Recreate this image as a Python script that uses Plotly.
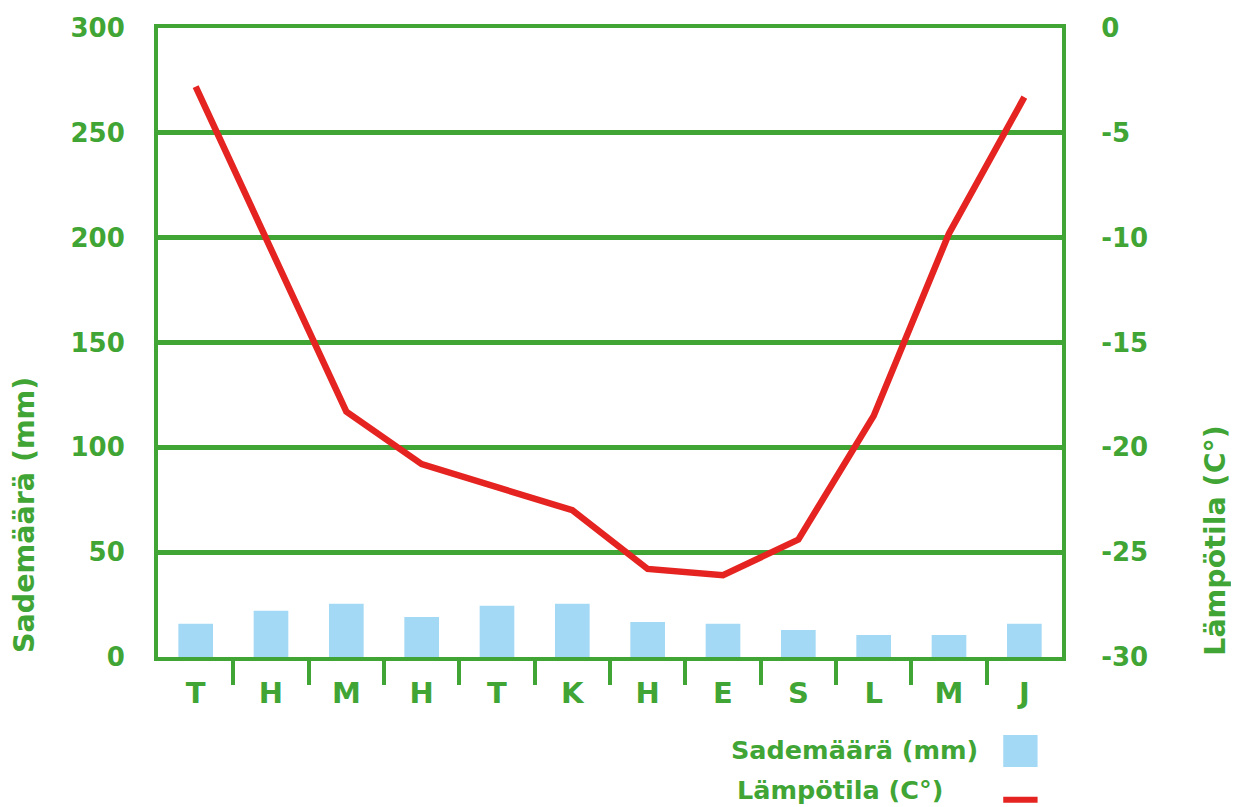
import plotly.graph_objects as go

months = ["T", "H", "M", "H", "T", "K", "H", "E", "S", "L", "M", "J"]
precip_mm = [15.8, 22, 25.4, 19.1, 24.4, 25.4, 16.7, 15.8, 12.9, 10.5, 10.5, 15.8]
temp_c = [-2.8, -10.5, -18.3, -20.8, -21.9, -23.0, -25.8, -26.1, -24.4, -18.5, -9.8, -3.3]
left_ticks = [0, 50, 100, 150, 200, 250, 300]
right_ticks = [0, -5, -10, -15, -20, -25, -30]

GREEN = "#40a535"
BLUE = "#a3d9f5"
RED = "#e52421"
FONT = "DejaVu Sans"

x = list(range(len(months)))
boundaries = [i + 0.5 for i in range(len(months) - 1)]

fig = go.Figure()
fig.add_trace(go.Bar(x=x, y=precip_mm, marker=dict(color=BLUE, line=dict(width=0)),
                     width=0.46, name="Sademäärä (mm)", yaxis="y", showlegend=False))
fig.add_trace(go.Scatter(x=x, y=temp_c, mode="lines", line=dict(color=RED, width=6.5),
                         name="Lämpötila (C°)", yaxis="y2", showlegend=False))

tickfont = dict(family=FONT, size=26, color=GREEN, weight="bold")

# page body has an 8px margin, so the figure is sized to fit inside the window
fig.update_layout(
    width=1231, height=799,
    margin=dict(l=150, r=177, t=20, b=150, autoexpand=False),
    plot_bgcolor="white", paper_bgcolor="white",
    xaxis=dict(range=[-0.5, 11.5], tickmode="array", tickvals=x, ticktext=months,
               showline=True, mirror=True, linecolor=GREEN, linewidth=4,
               showgrid=False, zeroline=False, automargin=False,
               ticks="outside", ticklen=7, tickcolor="rgba(0,0,0,0)",
               tickfont=dict(family=FONT, size=29, color=GREEN, weight="bold"),
               minor=dict(tickvals=boundaries, ticks="outside", ticklen=24, tickwidth=4,
                          tickcolor=GREEN, showgrid=False)),
    yaxis=dict(range=[0, 300], tickmode="array", tickvals=left_ticks,
               showline=True, linecolor=GREEN, linewidth=4, automargin=False,
               showgrid=True, gridcolor=GREEN, gridwidth=5, zeroline=False,
               ticks="outside", ticklen=24, tickcolor="rgba(0,0,0,0)", tickfont=tickfont),
    yaxis2=dict(range=[-30, 0], tickmode="array", tickvals=right_ticks,
                ticktext=[str(v) for v in right_ticks], automargin=False,
                overlaying="y", side="right", showline=True, linecolor=GREEN, linewidth=4,
                showgrid=False, zeroline=False,
                ticks="outside", ticklen=30, tickcolor="rgba(0,0,0,0)", tickfont=tickfont),
)

# axis titles
fig.add_annotation(text="Sademäärä (mm)", xref="paper", yref="paper", x=-0.147, y=0.226,
                   textangle=-90, showarrow=False, xanchor="center", yanchor="middle",
                   font=dict(family=FONT, size=28.5, color=GREEN, weight="bold"))
fig.add_annotation(text="Lämpötila (C°)", xref="paper", yref="paper", x=1.169, y=0.186,
                   textangle=-90, showarrow=False, xanchor="center", yanchor="middle",
                   font=dict(family=FONT, size=28.5, color=GREEN, weight="bold"))

# legend (text left of symbol)
legfont = dict(family=FONT, size=25.5, color=GREEN, weight="bold")
fig.add_annotation(text="Sademäärä (mm)", xref="paper", yref="paper", x=0.909, y=-0.148,
                   showarrow=False, xanchor="right", yanchor="middle", font=legfont)
fig.add_annotation(text="Lämpötila (C°)", xref="paper", yref="paper", x=0.871, y=-0.211,
                   showarrow=False, xanchor="right", yanchor="middle", font=legfont)
fig.add_shape(type="rect", xref="paper", yref="paper", x0=0.935, x1=0.973, y0=-0.175, y1=-0.124,
              fillcolor=BLUE, line=dict(width=0))
fig.add_shape(type="line", xref="paper", yref="paper", x0=0.935, x1=0.973, y0=-0.227, y1=-0.227,
              line=dict(color=RED, width=6))

fig.write_html("out.html")
